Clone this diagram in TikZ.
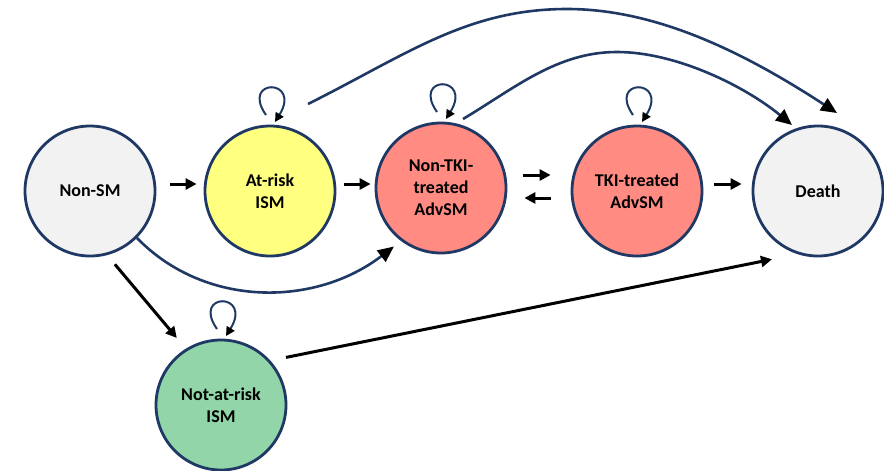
\documentclass[tikz,border=0pt]{standalone}
\usepackage{fontspec}
\setmainfont{Carlito}
\usetikzlibrary{arrows.meta}
\definecolor{navy}{RGB}{31,56,100}
\definecolor{lgray}{RGB}{242,242,242}
\definecolor{ylw}{RGB}{255,255,128}
\definecolor{salmon}{RGB}{255,139,130}
\definecolor{mint}{RGB}{145,213,169}
\newcommand{\selfloop}[1]{\draw[loopline] ([shift={(-4,-76)}]#1.center) .. controls ([shift={(-30,-113)}]#1.center) and ([shift={(32,-113)}]#1.center) .. ([shift={(5,-69)}]#1.center);}
\begin{document}
\begin{tikzpicture}[x=1pt,y=-1pt,
  state/.style={circle,draw=navy,line width=2.8pt,minimum size=130pt,inner sep=0pt,align=center,font=\fontsize{18}{22}\selectfont\bfseries},
  stub/.style={line width=3pt,-{Triangle[length=11pt,width=11pt]}},
  bigarc/.style={draw=navy,line width=2.6pt,-{Triangle[length=16pt,width=14pt,color=black]}},
  loopline/.style={draw=navy,line width=2pt,-{Triangle[length=9pt,width=9pt,color=black]}}]
\useasboundingbox (0,0) rectangle (884,471);
\node[state,fill=lgray] (nonsm) at (90,191) {Non-SM};
\node[state,fill=ylw] (atrisk) at (270,191) {At-risk\\ISM};
\node[state,fill=salmon] (nontki) at (441,188) {Non-TKI-\\treated\\AdvSM};
\node[state,fill=salmon] (tki) at (637,191) {TKI-treated\\AdvSM};
\node[state,fill=lgray] (death) at (818,191) {Death};
\node[state,fill=mint] (notrisk) at (221,405) {Not-at-risk\\ISM};
% short straight arrows
\draw[stub,shorten <=14pt,shorten >=7pt] ([yshift=7pt]nonsm.east) -- ([yshift=7pt]atrisk.west);
\draw[stub,shorten <=8pt,shorten >=4pt] ([yshift=7pt]atrisk.east) -- ([yshift=4pt]nontki.west);
\draw[stub,shorten <=16pt,shorten >=20pt] ([yshift=13pt]nontki.east) -- ([yshift=16pt]tki.west);
\draw[stub,shorten <=20pt,shorten >=17pt] ([yshift=-7pt]tki.west) -- ([yshift=-10pt]nontki.east);
\draw[stub,shorten <=11pt,shorten >=10pt] ([yshift=7pt]tki.east) -- ([yshift=7pt]death.west);
% long straight arrows
\draw[stub,shorten <=12pt,shorten >=14pt] (nonsm.-75) -- (notrisk.122);
\draw[stub,shorten <=16pt,shorten >=26pt] (notrisk.42) -- (death.252);
% curved arrows
\draw[bigarc,shorten >=9pt] (nonsm.-45) .. controls +(68,70) and +(-86,66) .. (nontki.233);
\draw[bigarc] ([shift={(38,-87)}]atrisk.center) .. controls +(98,-49) and (467,9) .. (567,9)
  .. controls +(90,0) and +(-92,-60) .. ([shift={(19,-78)}]death.center);
\draw[bigarc] ([shift={(22,-69)}]nontki.center) .. controls +(52,-31) and (557,52) .. (617,52)
  .. controls +(60,0) and +(-46,-38) .. ([shift={(-26,-66)}]death.center);
% self loops
\selfloop{atrisk}
\selfloop{nontki}
\selfloop{tki}
\selfloop{notrisk}
\end{tikzpicture}
\end{document}
